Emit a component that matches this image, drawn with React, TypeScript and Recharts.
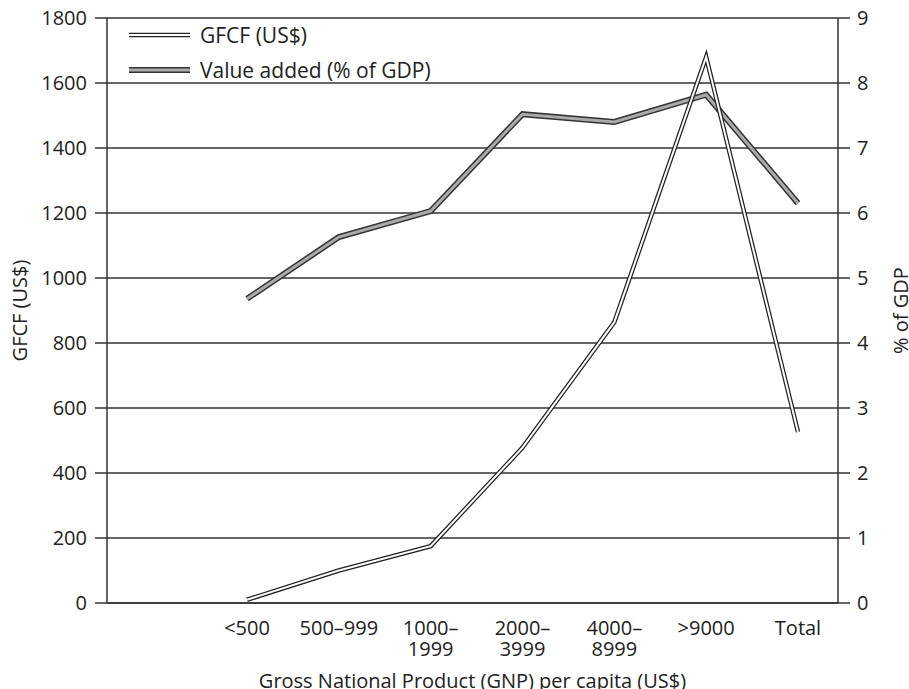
import { LineChart, Line, XAxis, YAxis, CartesianGrid, Legend } from "recharts";

const categories = ["<500", "500–999", "1000–\n1999", "2000–\n3999", "4000–\n8999", ">9000", "Total"];
const gfcfValues = [10, 100, 175, 478, 864, 1680, 526];
const valueAddedValues = [4.68, 5.63, 6.03, 7.52, 7.4, 7.82, 6.15];
const leftTicks = [0, 200, 400, 600, 800, 1000, 1200, 1400, 1600, 1800];
const rightTicks = [0, 1, 2, 3, 4, 5, 6, 7, 8, 9];

const data = categories.map((category, i) => ({
  category,
  gfcf: gfcfValues[i],
  valueAdded: valueAddedValues[i],
}));

const FONT = "'Open Sans', sans-serif";
const INK = "#222";

const series = [
  { name: "GFCF (US$)", outer: "#222", outerW: 4.5, inner: "#fff", innerW: 2 },
  { name: "Value added (% of GDP)", outer: "#333", outerW: 6, inner: "#aaa", innerW: 3 },
];

const CategoryTick = ({ x, y, payload }: any) => {
  const lines = String(payload.value).split("\n");
  return (
    <text x={x} y={y} textAnchor="middle" fill={INK} fontSize={20} fontFamily={FONT}>
      {lines.map((l, i) => (
        <tspan key={i} x={x} dy={i === 0 ? 32 : 21}>
          {l}
        </tspan>
      ))}
    </text>
  );
};

const LegendContent = () => (
  <div style={{ fontFamily: FONT, fontSize: 21, color: INK }}>
    {series.map((s) => (
      <div key={s.name} style={{ display: "flex", alignItems: "center", height: 35 }}>
        <svg width={61} height={10}>
          <line x1={0} y1={5} x2={61} y2={5} stroke={s.outer} strokeWidth={s.outerW} />
          <line x1={0} y1={5} x2={61} y2={5} stroke={s.inner} strokeWidth={s.innerW} />
        </svg>
        <span style={{ marginLeft: 10 }}>{s.name}</span>
      </div>
    ))}
  </div>
);

export default function App() {
  const tickStyle = { fontSize: 20, fontFamily: FONT, fill: INK };
  return (
    <div style={{ position: "absolute", left: 0, top: 0 }}>
      <LineChart
        width={909}
        height={689}
        data={data}
        margin={{ top: 18, right: 0, bottom: 0, left: 0 }}
      >
        <CartesianGrid yAxisId="left" vertical={false} stroke="#333" strokeWidth={1.5} />
        <XAxis
          dataKey="category"
          height={86}
          padding={{ left: 140, right: 40 }}
          tickLine={false}
          tickSize={0}
          tickMargin={0}
          interval={0}
          axisLine={{ stroke: "#333", strokeWidth: 1.5 }}
          tick={<CategoryTick />}
          label={{
            value: "Gross National Product (GNP) per capita (US$)",
            position: "insideBottom",
            offset: 1,
            style: { fontSize: 20, fontFamily: FONT, fill: INK },
          }}
        />
        <YAxis
          yAxisId="left"
          width={107}
          domain={[0, 1800]}
          ticks={leftTicks}
          interval={0}
          tickSize={12}
          tickMargin={8}
          tick={tickStyle}
          axisLine={{ stroke: "#333", strokeWidth: 1.5 }}
          tickLine={{ stroke: "#333", strokeWidth: 1.5 }}
          label={{
            value: "GFCF (US$)",
            angle: -90,
            position: "insideLeft",
            offset: 20,
            style: { fontSize: 20, fontFamily: FONT, fill: INK, textAnchor: "middle" },
          }}
        />
        <YAxis
          yAxisId="right"
          orientation="right"
          width={71}
          domain={[0, 9]}
          ticks={rightTicks}
          interval={0}
          tickSize={12}
          tickMargin={7}
          tick={tickStyle}
          axisLine={{ stroke: "#333", strokeWidth: 1.5 }}
          tickLine={{ stroke: "#333", strokeWidth: 1.5 }}
          label={{
            value: "% of GDP",
            angle: -90,
            position: "insideRight",
            offset: 8,
            style: { fontSize: 20, fontFamily: FONT, fill: INK, textAnchor: "middle" },
          }}
        />
        <Legend
          layout="vertical"
          align="center"
          verticalAlign="middle"
          wrapperStyle={{ left: 129, top: 17, width: "auto" }}
          content={<LegendContent />}
        />
        <Line
          yAxisId="right"
          dataKey="valueAdded"
          stroke={series[1].outer}
          strokeWidth={series[1].outerW}
          strokeLinejoin="miter"
          dot={false}
          activeDot={false}
          legendType="none"
          isAnimationActive={false}
        />
        <Line
          yAxisId="right"
          dataKey="valueAdded"
          name={series[1].name}
          stroke={series[1].inner}
          strokeWidth={series[1].innerW}
          strokeLinejoin="miter"
          dot={false}
          activeDot={false}
          isAnimationActive={false}
        />
        <Line
          yAxisId="left"
          dataKey="gfcf"
          stroke={series[0].outer}
          strokeWidth={series[0].outerW}
          strokeLinejoin="miter"
          dot={false}
          activeDot={false}
          legendType="none"
          isAnimationActive={false}
        />
        <Line
          yAxisId="left"
          dataKey="gfcf"
          name={series[0].name}
          stroke={series[0].inner}
          strokeWidth={series[0].innerW}
          strokeLinejoin="miter"
          dot={false}
          activeDot={false}
          isAnimationActive={false}
        />
      </LineChart>
    </div>
  );
}
